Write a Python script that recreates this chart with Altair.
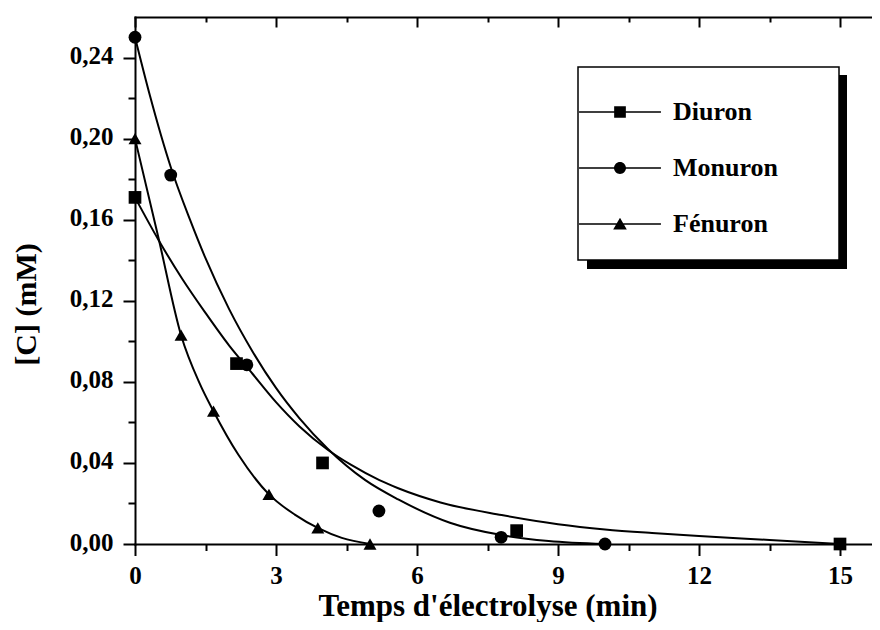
import altair as alt
import pandas as pd

FONT = "Liberation Serif"

series_names = ["Diuron", "Monuron", "Fénuron"]

# measured points
diuron_t = [0, 2.16, 3.99, 8.12, 15]
diuron_c = [0.171, 0.089, 0.040, 0.0066, 0.0]
monuron_t = [0, 0.76, 2.38, 5.19, 7.79, 10.0]
monuron_c = [0.250, 0.182, 0.0884, 0.0163, 0.0033, 0.0]
fenuron_t = [0, 0.98, 1.67, 2.85, 3.89, 5.0]
fenuron_c = [0.200, 0.103, 0.0655, 0.0245, 0.0080, 0.0]

# fitted curves
diuron_fit_t = [0, 0.5, 1.0, 1.5, 2.0, 2.5, 3.0, 3.5, 4.1, 4.6, 5.2, 5.6, 6.5, 7.8, 9.0, 10.0, 11.0, 12.0, 13.5, 15.0]
diuron_fit_c = [0.171, 0.150, 0.131, 0.114, 0.098, 0.084, 0.070, 0.058, 0.0465, 0.039, 0.0315, 0.0275, 0.0205, 0.0143, 0.0098, 0.0072, 0.0054, 0.0039, 0.0020, 0.0]
monuron_fit_t = [0, 0.32, 0.76, 1.17, 1.5, 2.0, 2.5, 3.0, 3.5, 4.1, 4.9, 5.6, 6.7, 7.8, 8.8, 10.0]
monuron_fit_c = [0.250, 0.221, 0.186, 0.160, 0.141, 0.116, 0.095, 0.077, 0.062, 0.047, 0.0315, 0.022, 0.0105, 0.0044, 0.0015, 0.0]
fenuron_fit_t = [0, 0.5, 0.98, 1.38, 1.67, 2.2, 2.85, 3.4, 3.9, 4.4, 5.0]
fenuron_fit_c = [0.200, 0.151, 0.103, 0.079, 0.0655, 0.044, 0.0245, 0.0145, 0.0078, 0.003, 0.0]

x_major = [0, 3, 6, 9, 12, 15]
x_minor = [1.5, 4.5, 7.5, 10.5, 13.5]
y_major = [0.00, 0.04, 0.08, 0.12, 0.16, 0.20, 0.24]
y_minor = [0.02, 0.06, 0.10, 0.14, 0.18, 0.22]


def frame(name, ts, cs):
    return pd.DataFrame({"series": name, "t": ts, "c": cs})


pts = pd.concat([
    frame("Diuron", diuron_t, diuron_c),
    frame("Monuron", monuron_t, monuron_c),
    frame("Fénuron", fenuron_t, fenuron_c),
], ignore_index=True)

fits = pd.concat([
    frame("Diuron", diuron_fit_t, diuron_fit_c),
    frame("Monuron", monuron_fit_t, monuron_fit_c),
    frame("Fénuron", fenuron_fit_t, fenuron_fit_c),
], ignore_index=True)

W, H = 752, 527
xs = alt.Scale(domain=[0, 16], nice=False, zero=False)
ys = alt.Scale(domain=[0, 0.26], nice=False, zero=False)

ax_x_major = alt.Axis(orient="bottom", values=x_major, format="d", tickSize=11.5,
                      labelPadding=8, labelFontSize=25, domain=True,
                      title="Temps d'électrolyse (min)", titleFontSize=31,
                      titleX=352.5, titleY=71, titleBaseline="alphabetic", titleAlign="center")
ax_x_minor = alt.Axis(orient="bottom", values=x_minor, tickSize=6.5, labels=False, domain=False)
ax_x_top_major = alt.Axis(orient="bottom", offset=-H, values=x_major, tickSize=10, labels=False, domain=True)
ax_x_top_minor = alt.Axis(orient="bottom", offset=-H, values=x_minor, tickSize=5, labels=False, domain=False)

ax_y_major = alt.Axis(orient="left", values=y_major, tickSize=12, labelPadding=10, labelFontSize=25,
                      labelOffset=-2,
                      labelExpr="replace(format(datum.value, '.2f'), '.', ',')", domain=True,
                      title="[C] (mM)", titleFontSize=30, titleAngle=270,
                      titleX=-100, titleY=287, titleBaseline="alphabetic", titleAlign="center")
ax_y_minor = alt.Axis(orient="left", values=y_minor, tickSize=7, labels=False, domain=False)
ax_y_right_major = alt.Axis(orient="left", offset=-W, values=y_major, tickSize=11, labels=False, domain=True)
ax_y_right_minor = alt.Axis(orient="left", offset=-W, values=y_minor, tickSize=6, labels=False, domain=False)

bar = "M-6.3,-0.12H6.3V0.12H-6.3Z "
legend_paths = [
    bar + "M-0.9,-0.9H0.9V0.9H-0.9Z",
    bar + "M-0.92,0A0.92,0.92,0,1,1,0.92,0A0.92,0.92,0,1,1,-0.92,0Z",
    bar + "M0,-0.95L1.05,0.85H-1.05Z",
]

one = alt.Data(values=[{}])
shadow = alt.Chart(one).mark_rect(color="black").encode(
    x=alt.value(452), x2=alt.value(712), y=alt.value(58), y2=alt.value(252))
box = alt.Chart(one).mark_rect(fill="white", stroke="black", strokeWidth=1.5).encode(
    x=alt.value(443), x2=alt.value(704), y=alt.value(50), y2=alt.value(243))

curves = alt.Chart(fits).mark_line(color="black", strokeWidth=2, interpolate="monotone").encode(
    x=alt.X("t:Q", scale=xs, axis=ax_x_major),
    y=alt.Y("c:Q", scale=ys, axis=ax_y_major),
    detail="series:N",
)

points = alt.Chart(pts).mark_point(filled=True, color="black", opacity=1).encode(
    x=alt.X("t:Q", scale=xs, axis=ax_x_minor, title=None),
    y=alt.Y("c:Q", scale=ys, axis=ax_y_minor, title=None),
    shape=alt.Shape("series:N", scale=alt.Scale(domain=series_names, range=["square", "circle", "triangle-up"]), legend=None),
    size=alt.Size("series:N", scale=alt.Scale(domain=series_names, range=[161, 169, 196]), legend=None),
)

legend_layer = alt.Chart(fits).transform_filter("datum.t < -1").mark_point(
    filled=True, color="black", opacity=1, size=169).encode(
    x=alt.X("t:Q", scale=xs, axis=ax_x_top_major, title=None),
    y=alt.Y("c:Q", scale=ys, axis=ax_y_right_major, title=None),
    shape=alt.Shape("series:N", scale=alt.Scale(domain=series_names, range=legend_paths),
                    legend=alt.Legend(title=None, orient="none", legendX=472, legendY=82,
                                      labelFont=FONT, labelFontSize=26, labelFontWeight="bold",
                                      labelColor="black", labelOffset=40, rowPadding=30,
                                      symbolSize=169, padding=0, labelLimit=400,
                                      symbolFillColor="black", symbolStrokeWidth=0)),
)

frame_layer = alt.Chart(fits).transform_filter("datum.t < -1").mark_point().encode(
    x=alt.X("t:Q", scale=xs, axis=ax_x_top_minor, title=None),
    y=alt.Y("c:Q", scale=ys, axis=ax_y_right_minor, title=None),
)

chart = alt.layer(shadow, box, curves, points, legend_layer, frame_layer).resolve_scale(
    shape="independent", size="independent"
).resolve_axis(x="independent", y="independent").properties(
    width=W, height=H,
    padding={"left": 127, "top": 9, "right": -15, "bottom": 78},
    autosize=alt.AutoSizeParams(type="none"),
).configure_view(stroke="transparent").configure_axis(
    labelFont=FONT, titleFont=FONT, labelFontWeight="bold", titleFontWeight="bold",
    labelColor="black", titleColor="black", tickColor="black", domainColor="black",
    tickWidth=2, domainWidth=2, grid=False, labelFlush=False, labelOverlap=False,
    domainCap="square",
)

chart.save("out.html", embed_options={"renderer": "svg", "actions": False})
